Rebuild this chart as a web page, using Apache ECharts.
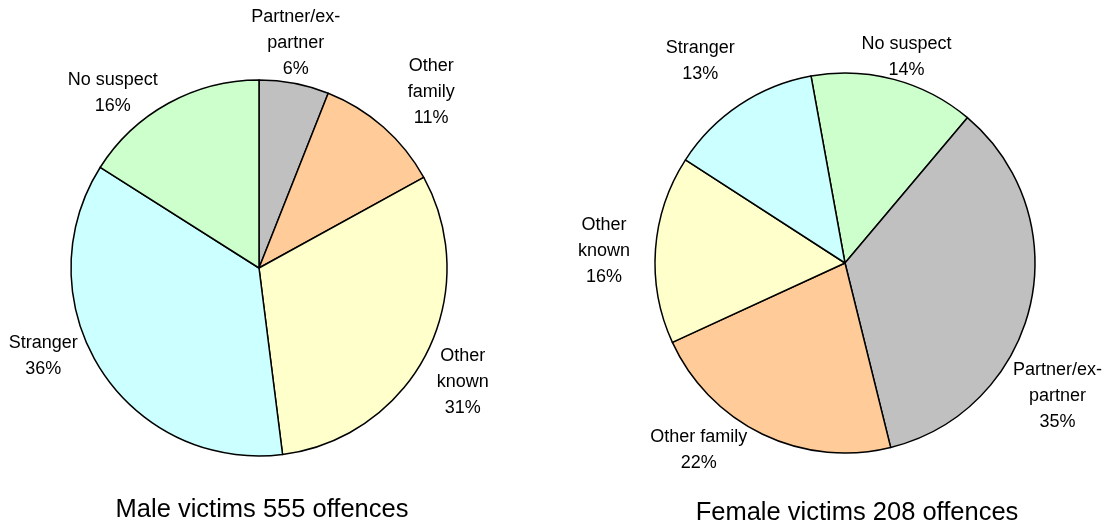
<!DOCTYPE html>
<html>
<head>
<meta charset="utf-8">
<script src="https://cdn.jsdelivr.net/npm/echarts@6/dist/echarts.min.js"></script>
<style>
  html, body { margin: 0; padding: 0; background: #fff; }
  #main { width: 1109px; height: 526px; }
</style>
</head>
<body>
<div id="main"></div>
<script>
// male victims, clockwise from 12 o'clock
var maleNames = ['Partner/ex-\npartner', 'Other\nfamily', 'Other\nknown', 'Stranger', 'No suspect'];
var maleValues = [6, 11, 31, 36, 16];
var maleColors = ['#C0C0C0', '#FFCC99', '#FFFFCC', '#CCFFFF', '#CCFFCC'];

// female victims, clockwise from just left of 12 o'clock
var femaleNames = ['No suspect', 'Partner/ex-\npartner', 'Other family', 'Other\nknown', 'Stranger'];
var femaleValues = [14, 35, 22, 16, 13];
var femaleColors = ['#CCFFCC', '#C0C0C0', '#FFCC99', '#FFFFCC', '#CCFFFF'];

var titles = ['Male victims 555 offences', 'Female victims 208 offences'];

// layout: pie geometry and small label nudges (px) off the mid-angle spot
var pies = [
  { center: [259, 268], radius: 188, startAngle: 90, values: maleValues,
    nudge: [[-7, 4], [18, -1], [-4, 8], [-19, -37], [-34, 29]] },
  { center: [845, 263], radius: 190, startAngle: 100.3, values: femaleValues,
    nudge: [[1, 22], [-17, 80], [-44, -25], [-6, 5], [-14, -6]] }
];
var labelRatio = 1.24;

var font = '"Liberation Sans", Arial, sans-serif';

// angle (deg, ccw from 3 o'clock) of the middle of slice i
function midAngle(pie, i) {
  var total = 0, before = 0;
  pie.values.forEach(function (v, k) {
    total += v;
    if (k < i) before += v;
  });
  before += pie.values[i] / 2;
  return pie.startAngle - before / total * 360;
}

function placeLabel(p) {
  var pie = pies[p.seriesIndex];
  var a = midAngle(pie, p.dataIndex) * Math.PI / 180;
  var d = pie.radius * labelRatio;
  var n = pie.nudge[p.dataIndex];
  return {
    x: pie.center[0] + Math.cos(a) * d + n[0],
    y: pie.center[1] - Math.sin(a) * d + n[1],
    align: 'center',
    verticalAlign: 'middle'
  };
}

function makeSeries(idx, names, values, colors) {
  var pie = pies[idx];
  return {
    type: 'pie',
    center: pie.center,
    radius: pie.radius,
    startAngle: pie.startAngle,
    clockwise: true,
    silent: true,
    animation: false,
    data: names.map(function (n, i) {
      return { name: n, value: values[i], itemStyle: { color: colors[i] } };
    }),
    itemStyle: { borderColor: '#000', borderWidth: 1.5 },
    label: {
      show: true,
      position: 'outside',
      formatter: '{b}\n{c}%',
      fontFamily: font,
      fontSize: 18,
      lineHeight: 26,
      color: '#000',
      overflow: 'none'
    },
    labelLine: { show: false },
    labelLayout: placeLabel
  };
}

var chart = echarts.init(document.getElementById('main'));
chart.setOption({
  backgroundColor: '#fff',
  animation: false,
  graphic: [
    { type: 'text', x: 262, y: 510, style: { text: titles[0], font: '25.5px ' + font, fill: '#000', align: 'center', verticalAlign: 'middle' } },
    { type: 'text', x: 857, y: 513, style: { text: titles[1], font: '25.5px ' + font, fill: '#000', align: 'center', verticalAlign: 'middle' } }
  ],
  series: [
    makeSeries(0, maleNames, maleValues, maleColors),
    makeSeries(1, femaleNames, femaleValues, femaleColors)
  ]
});
</script>
</body>
</html>
